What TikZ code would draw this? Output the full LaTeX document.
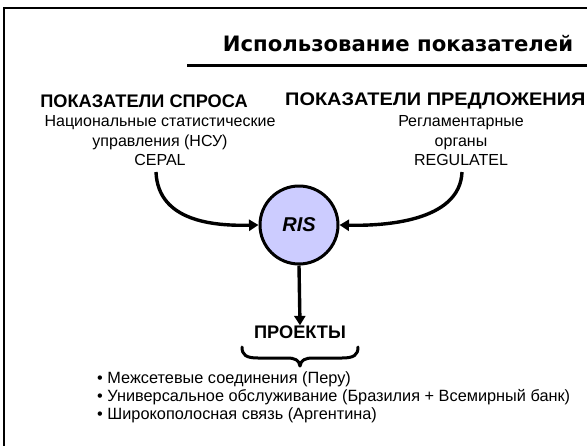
\documentclass[tikz,border=0pt]{standalone}
\usepackage{fontspec}
\setmainfont{Liberation Sans}
\newfontfamily\titlefont{DejaVu Sans}
\usetikzlibrary{arrows.meta}
\definecolor{risfill}{RGB}{204,204,255}
\tikzset{
  heavy/.style={line width=3.4pt},
  conn/.style={heavy,-{Triangle[length=9.5pt,width=11pt]}},
  head/.style={font=\bfseries\fontsize{18.2}{20}\selectfont, inner sep=0pt},
  plain/.style={font=\fontsize{16}{19.5}\selectfont, align=center, inner sep=0pt},
  item/.style={font=\fontsize{16.3}{19.5}\selectfont, inner sep=0pt, anchor=base west},
}
\begin{document}
\begin{tikzpicture}[x=1pt,y=-1pt]
\useasboundingbox (0,0) rectangle (587,445);
% frame
\draw[line width=2.5pt] (4,447) -- (4,8) -- (590,8);
% title
\node[inner sep=0pt, font=\titlefont\bfseries\fontsize{21.2}{23}\selectfont] (title) at (398,44) {Использование показателей};
\draw[line width=2.2pt] (187,65.5) -- (590,65.5);
% headings
\node[head] (dem) at (144,101) {ПОКАЗАТЕЛИ СПРОСА};
\node[head, anchor=west, xscale=1.095, transform shape] (sup) at (285,101) {ПОКАЗАТЕЛИ ПРЕДЛОЖЕНИЯ};
% sources
\node[plain] (demtxt) at (160,141) {Национальные статистические\\управления (НСУ)\\CEPAL};
\node[plain] (suptxt) at (461,141) {Регламентарные\\органы\\REGULATEL};
% center circle
\node[circle, draw, line width=3pt, fill=risfill, minimum size=78pt, inner sep=0pt,
      font=\bfseries\itshape\fontsize{20}{22}\selectfont] (ris) at (299,225) {RIS};
% arrows
\coordinate (a1) at (156,172);
\coordinate (a2) at (462,172);
\draw[conn] (a1) .. controls (158,222) and (215,226) .. (ris.west);
\draw[conn] (a2) .. controls (460,222) and (383,226) .. (ris.east);
\node[head] (proj) at (300,332) {ПРОЕКТЫ};
\draw[conn] (ris.south) -- (proj.north);
% brace
\draw[line width=3pt, line cap=round, line join=round]
  (242,347) .. controls (242,355) and (246,358) .. (258,358) -- (287,358)
  .. controls (295,358) and (299,360) .. (300,366)
  .. controls (301,360) and (305,358) .. (313,358) -- (342,358)
  .. controls (354,358) and (358,355) .. (358,347);
% list
\node[item] (l1) at (97,383.5) {• Межсетевые соединения (Перу)};
\node[item] (l2) at (97,401.5) {• Универсальное обслуживание (Бразилия + Всемирный банк)};
\node[item] (l3) at (97,419.5) {• Широкополосная связь (Аргентина)};
\end{tikzpicture}
\end{document}
